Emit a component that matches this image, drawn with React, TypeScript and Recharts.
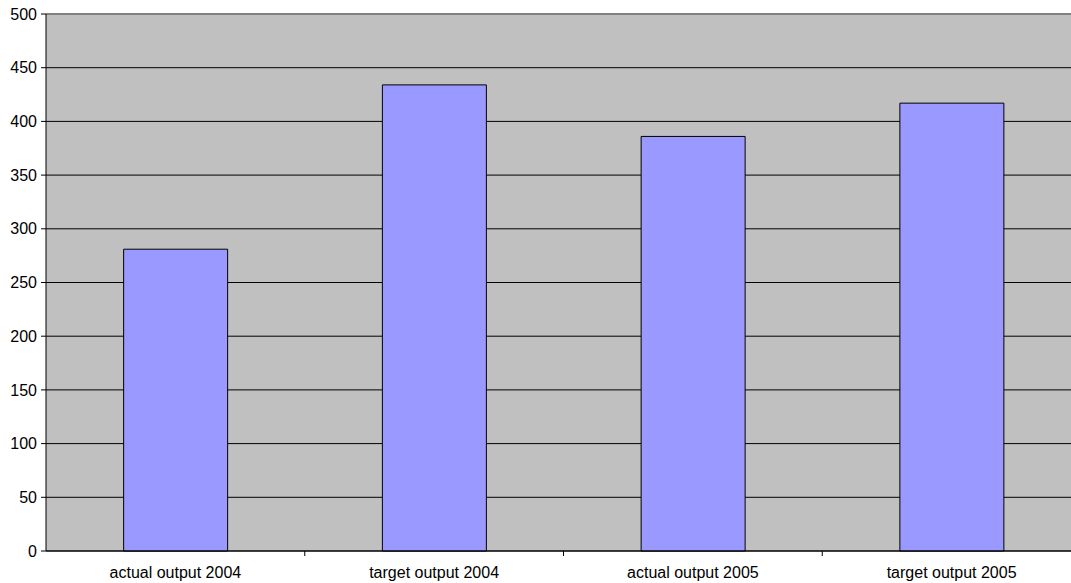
import { BarChart, Bar, XAxis, YAxis, CartesianGrid, ReferenceLine } from 'recharts'

const categories = ['actual output 2004', 'target output 2004', 'actual output 2005', 'target output 2005']
const outputs = [281, 434, 386, 417]
const yTicks = [0, 50, 100, 150, 200, 250, 300, 350, 400, 450, 500]

const data = categories.map((name, i) => ({ name, output: outputs[i] }))

const FONT = '"Liberation Sans", Arial, sans-serif'
const TICK_SIZE = 5
const TICK_MARGIN = 11

// label centred in the band, tick mark on the band's right edge
function CategoryTick(props: any) {
  const { x, y, payload } = props
  const axisY = y - TICK_SIZE - TICK_MARGIN
  const edge = x + (payload.offset ?? 0)
  return (
    <g>
      <line x1={edge} y1={axisY} x2={edge} y2={axisY + TICK_SIZE} stroke="#000" />
      <text x={x} y={y} dy="0.71em" textAnchor="middle" fill="#000" fontSize={16} fontFamily={FONT}>
        {payload.value}
      </text>
    </g>
  )
}

export default function App() {
  return (
    <div style={{ position: 'absolute', left: 0, top: 0, width: 1071, height: 583, overflow: 'hidden', background: '#fff' }}>
      <BarChart
        width={1082}
        height={583}
        data={data}
        margin={{ top: 14, right: 1, bottom: 0, left: 0 }}
        barCategoryGap="30%"
      >
        <CartesianGrid vertical={false} stroke="#000" fill="#C0C0C0" fillOpacity={1} />
        <XAxis
          dataKey="name"
          height={32}
          axisLine={{ stroke: '#000' }}
          tickLine={false}
          tickSize={TICK_SIZE}
          tickMargin={TICK_MARGIN}
          interval={0}
          tick={<CategoryTick />}
        />
        <YAxis
          width={46}
          domain={[0, 500]}
          ticks={yTicks}
          interval={0}
          axisLine={{ stroke: '#000' }}
          tickLine={{ stroke: '#000' }}
          tickSize={TICK_SIZE}
          tickMargin={4}
          tick={{ fill: '#000', fontSize: 16, fontFamily: FONT }}
        />
        <ReferenceLine y={500} stroke="#808080" strokeWidth={2} />
        <Bar dataKey="output" fill="#9999FF" stroke="#000" strokeWidth={1} isAnimationActive={false} />
      </BarChart>
    </div>
  )
}
